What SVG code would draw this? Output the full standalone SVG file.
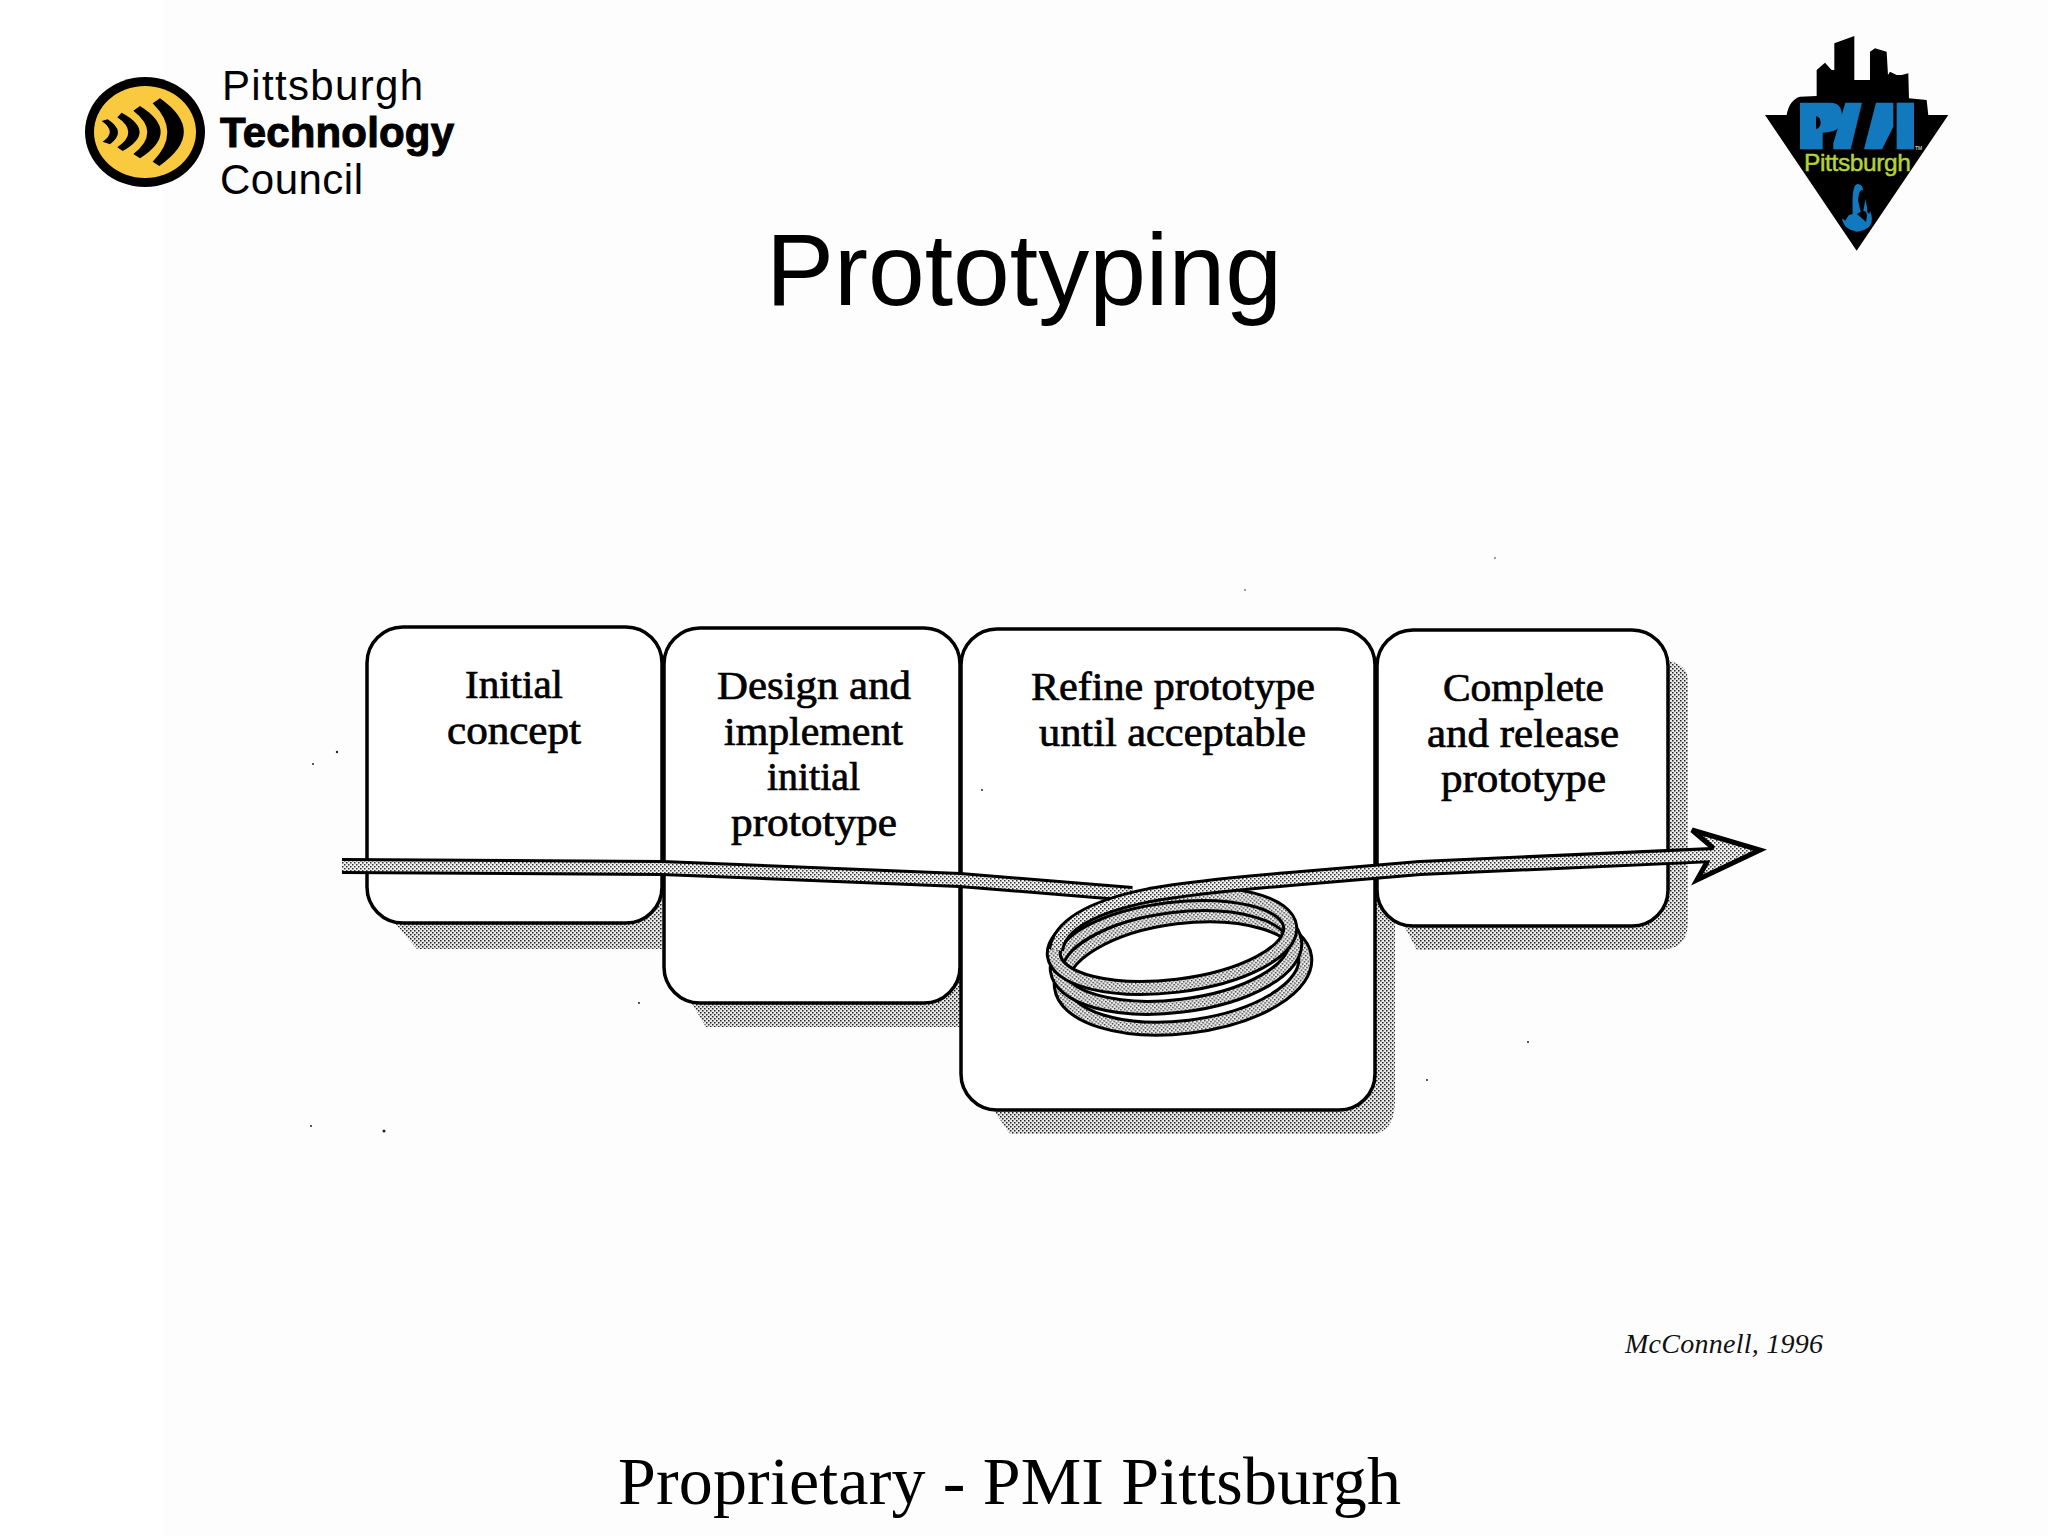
<svg xmlns="http://www.w3.org/2000/svg" width="2048" height="1536" viewBox="0 0 2048 1536">
<style>
.box{fill:#fff;stroke:#000;stroke-width:3.5}
.t{font-family:"Liberation Serif",serif;font-size:39px;fill:#000;stroke:#000;stroke-width:.7;text-anchor:start}
.bandK{fill:none;stroke:#000;stroke-width:16;stroke-linejoin:round}
.bandS{fill:none;stroke:url(#stip);stroke-width:10;stroke-linejoin:round}
.sans{font-family:"Liberation Sans",sans-serif}
.logo{font-family:"Liberation Sans Narrow","Liberation Sans",sans-serif}
.speck{fill:#222}
</style>
<defs>
<pattern id="stip" width="4" height="4" patternUnits="userSpaceOnUse">
<rect width="4" height="4" fill="#f0f0f0"/><rect width="1.5" height="1.5" fill="#333"/><rect x="2" y="2" width="1.5" height="1.5" fill="#333"/>
</pattern>
<pattern id="shade" width="4" height="4" patternUnits="userSpaceOnUse">
<rect width="4" height="4" fill="#e8e8e8"/><rect width="1.5" height="1.5" fill="#222"/><rect x="2" y="2" width="1.5" height="1.5" fill="#222"/>
</pattern>
</defs>
<rect width="2048" height="1536" fill="#fff"/>
<rect x="163" width="1885" height="1536" fill="#fdfdfd"/>

<g id="ptc-logo">
<ellipse cx="145" cy="132" rx="60" ry="55" fill="#000"/>
<ellipse cx="145" cy="132" rx="51" ry="46" fill="#f9c93f"/>
<g transform="translate(60,40) scale(.3333)" fill="#000">
<path d="M143 238Q201 275 150 313L128 305Q172 275 125 243Z"/>
<path d="M185 218Q291 275 188 333L172 322Q238 277 172 232Z"/>
<path d="M240 198Q364 276 240 355L220 342Q304 277 220 212Z"/>
<path d="M300 175Q444 276 298 378L278 365Q366 277 278 190Z"/>
</g>
<text class="logo" x="222" y="100" font-size="42" textLength="201" lengthAdjust="spacing">Pittsburgh</text>
<text class="logo" x="220" y="147" font-size="42" font-weight="700" stroke="#000" stroke-width="1" textLength="234" lengthAdjust="spacing">Technology</text>
<text class="logo" x="220" y="194" font-size="42" textLength="143" lengthAdjust="spacing">Council</text>
</g>

<g id="pmi-logo">
<g transform="translate(1740,20) scale(.3333)">
<path fill="#000" d="M75 285H140C145 255 160 235 180 230L230 228V150L255 128L275 150H283V70L343 48V180H390V95L405 85L440 95L444 165L450 155L470 165L485 165L505 160L507 235L560 240L565 285H625L350 692Z"/>
</g>
<g transform="translate(1780,90) scale(.3333)" fill="#1279be">
<path fill-rule="evenodd" d="M60 38H150Q186 38 186 78Q186 122 150 125L128 128V178H60ZM108 78V118Q122 112 122 98Q122 82 108 78Z"/>
<path d="M196 38H246L212 178H160L160 160Z"/>
<path d="M288 38H340V110L306 178H252Z"/>
<rect x="350" y="38" width="52" height="140"/>
<path d="M232 282C246 284 250 292 248 302C256 325 262 345 262 366L268 372L270 362C274 372 278 385 274 398C270 412 255 422 230 425C205 420 190 410 186 385L196 392L206 376L218 372C218 345 216 310 222 295C224 288 226 284 232 282Z"/>
</g>
<path fill="#000" d="M1858 200Q1860 182 1866 196L1862 218ZM1857 214Q1870 205 1866 222Z"/>
<text class="sans" x="1804" y="171" font-size="24.5" fill="#b4d335" stroke="#b4d335" stroke-width=".5" textLength="107" lengthAdjust="spacing">Pittsburgh</text>
<text class="sans" x="1915" y="150" font-size="5" fill="#fff">TM</text>
</g>

<text id="title" class="sans" x="766" y="305" font-size="102" fill="#000">Prototyping</text>

<g id="shadows">
<path fill="url(#shade)" d="M394 922L417 949H662V895Z"/>
<path fill="url(#shade)" d="M691 1002L706 1027H960V975Z"/>
<path fill="url(#shade)" d="M990 1105L1010 1134H1375Q1395 1130 1395 1100V903L1375 880Z"/>
<path fill="url(#shade)" d="M1402 922L1417 950H1660Q1688 950 1688 922V680Q1688 665 1667 660Z"/>
</g>

<g id="node-initial-concept">
<rect class="box" x="367" y="627" width="295" height="296" rx="36"/>
<text class="t" x="465" y="698" textLength="98" lengthAdjust="spacingAndGlyphs">Initial</text>
<text class="t" x="447" y="744" textLength="134" lengthAdjust="spacingAndGlyphs">concept</text>
</g>
<g id="node-design">
<rect class="box" x="664" y="628" width="296" height="375" rx="36"/>
<text class="t" x="717" y="699" textLength="194" lengthAdjust="spacingAndGlyphs">Design and</text>
<text class="t" x="724" y="745" textLength="179" lengthAdjust="spacingAndGlyphs">implement</text>
<text class="t" x="767" y="790" textLength="93" lengthAdjust="spacingAndGlyphs">initial</text>
<text class="t" x="731" y="836" textLength="166" lengthAdjust="spacingAndGlyphs">prototype</text>
</g>
<g id="node-refine">
<rect class="box" x="961" y="629" width="414" height="481" rx="36"/>
<text class="t" x="1031" y="700" textLength="284" lengthAdjust="spacingAndGlyphs">Refine prototype</text>
<text class="t" x="1039" y="746" textLength="267" lengthAdjust="spacingAndGlyphs">until acceptable</text>
</g>
<g id="node-complete">
<rect class="box" x="1377" y="630" width="291" height="296" rx="36"/>
<text class="t" x="1443" y="701" textLength="161" lengthAdjust="spacingAndGlyphs">Complete</text>
<text class="t" x="1427" y="747" textLength="192" lengthAdjust="spacingAndGlyphs">and release</text>
<text class="t" x="1441" y="792" textLength="165" lengthAdjust="spacingAndGlyphs">prototype</text>
</g>

<g id="connectors">
<ellipse class="bandK" cx="1183" cy="972" rx="123" ry="55" transform="rotate(-7 1183 972)"/>
<ellipse class="bandS" cx="1183" cy="972" rx="123" ry="55" transform="rotate(-7 1183 972)"/>
<ellipse class="bandK" cx="1176" cy="956" rx="120" ry="50" transform="rotate(-7 1176 956)"/>
<ellipse class="bandS" cx="1176" cy="956" rx="120" ry="50" transform="rotate(-7 1176 956)"/>
<path class="bandK" d="M342 866L662 868L960 880L1132 894"/>
<path class="bandS" d="M342 866L662 868L960 880L1132 894"/>
<ellipse class="bandK" cx="1172" cy="941" rx="119" ry="45" transform="rotate(-7 1172 941)"/>
<ellipse class="bandS" cx="1172" cy="941" rx="119" ry="45" transform="rotate(-7 1172 941)"/>
<path class="bandK" d="M1056 950C1060 922 1100 905 1150 895C1190 888 1230 884 1290 879L1420 868L1712 855"/>
<path fill="url(#stip)" stroke="#000" stroke-width="5" stroke-linejoin="miter" d="M1692 830L1760 850L1697 880L1707 862L1712 847Z"/>
<path class="bandS" d="M1056 950C1060 922 1100 905 1150 895C1190 888 1230 884 1290 879L1420 868L1716 855"/>
</g>

<text id="citation" x="1625" y="1353" font-family="Liberation Serif, serif" font-style="italic" font-size="28" fill="#111" textLength="198" lengthAdjust="spacing">McConnell, 1996</text>
<text id="footer" x="618" y="1504" font-family="Liberation Serif, serif" font-size="68" fill="#000" textLength="783" lengthAdjust="spacing">Proprietary - PMI Pittsburgh</text>

<g id="specks" class="speck">
<circle cx="313" cy="764" r="1"/><circle cx="337" cy="752" r="1.2"/><circle cx="384" cy="1131" r="1.5"/><circle cx="311" cy="1126" r="1"/><circle cx="1495" cy="558" r=".8"/><circle cx="1245" cy="590" r=".8"/><circle cx="982" cy="790" r="1"/><circle cx="639" cy="1003" r="1"/><circle cx="1427" cy="1080" r="1"/><circle cx="1528" cy="1042" r="1"/>
</g>
</svg>
